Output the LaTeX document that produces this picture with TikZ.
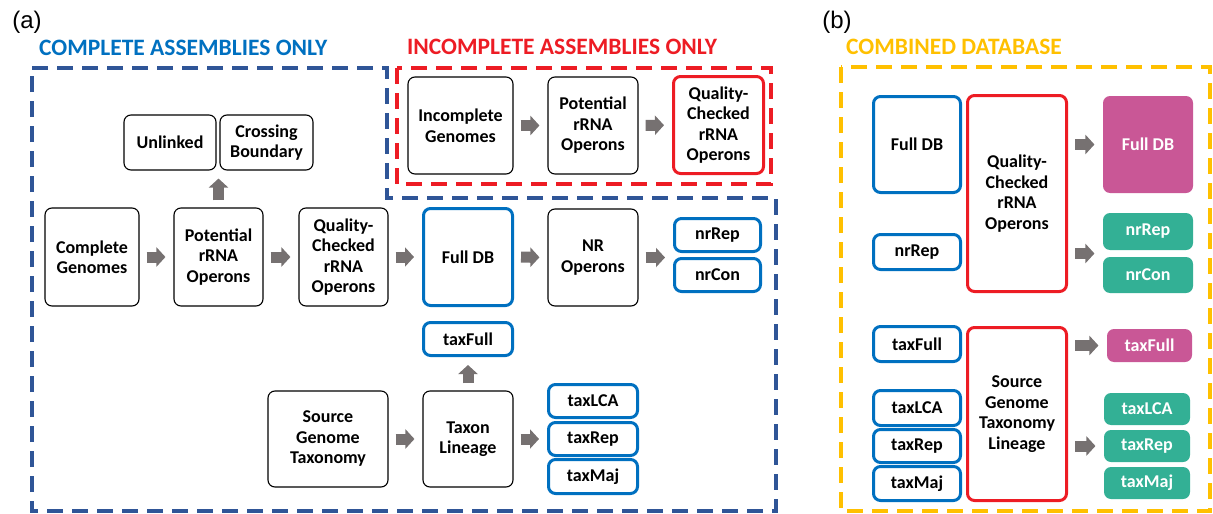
\documentclass[tikz,border=0pt]{standalone}
\usepackage{fontspec}
\setmainfont{Carlito}
\newfontfamily\panelfont{Liberation Sans}
\usepackage{tikz}
\usetikzlibrary{arrows.meta,calc}
\definecolor{boxblue}{RGB}{0,112,192}
\definecolor{frameblue}{RGB}{47,85,151}
\definecolor{boxred}{RGB}{237,28,36}
\definecolor{framegold}{RGB}{255,192,0}
\definecolor{dbpink}{RGB}{201,87,150}
\definecolor{dbgreen}{RGB}{51,176,149}
\definecolor{flowgray}{RGB}{118,113,113}

\tikzset{
  stage/.style={draw, rounded corners=7pt, line width=1.1pt, align=center, inner sep=0pt,
    font=\bfseries\fontsize{18}{20.5}\selectfont},
  dbblue/.style={stage, draw=boxblue, line width=3pt},
  dbred/.style={stage, draw=boxred, line width=3pt},
  outpink/.style={stage, draw=none, fill=dbpink, text=white},
  outgreen/.style={stage, draw=none, fill=dbgreen, text=white},
  flow/.style={draw=flowgray, line width=11pt, -{Triangle[length=9pt,width=19pt]},
    shorten <=7pt, shorten >=8pt},
  frame/.style={line width=3.5pt, dash pattern=on 16pt off 9pt},
  heading/.style={font=\bfseries\fontsize{23.5}{26}\selectfont, anchor=west, inner sep=0pt}
}

\begin{document}
\begin{tikzpicture}[x=1pt,y=-1pt]
\useasboundingbox (0,0) rectangle (1213,514);

% frames
\draw[frame, frameblue] (32,68) -- (387,68) -- (387,198) -- (776,198) -- (776,511) -- (32,511) -- cycle;
\draw[frame, boxred] (397,68) rectangle (771,184);
\draw[frame, framegold] (841,67) rectangle (1210,511);

% headings
\node[font=\panelfont\fontsize{24}{26}\selectfont] (lbla) at (27,22) {(a)};
\node[font=\panelfont\fontsize{24}{26}\selectfont] (lblb) at (837,22) {(b)};
\node[heading, text=boxblue] (hcomplete) at (39,48) {COMPLETE ASSEMBLIES ONLY};
\node[heading, text=boxred] (hincomplete) at (407,47) {INCOMPLETE ASSEMBLIES ONLY};
\node[heading, text=framegold] (hcombined) at (846,47) {COMBINED DATABASE};

% (a) complete assemblies
\node[stage, minimum width=92, minimum height=55] (unl) at (170,142.5) {Unlinked};
\node[stage, minimum width=93, minimum height=55] (crb) at (266.5,142.5) {Crossing\\Boundary};
\node[stage, minimum width=94, minimum height=98] (cgen) at (92,257) {Complete\\Genomes};
\node[stage, minimum width=89, minimum height=98] (pot) at (218.5,257) {Potential\\rRNA\\Operons};
\node[stage, minimum width=89, minimum height=98] (qc) at (343.5,257) {Quality-\\Checked\\rRNA\\Operons};
\node[dbblue, minimum width=89, minimum height=97] (fdb) at (468,257) {Full DB};
\node[stage, minimum width=90, minimum height=97] (nro) at (593,257.5) {NR\\Operons};
\node[dbblue, minimum width=86, minimum height=33] (nrrep) at (717.5,235) {nrRep};
\node[dbblue, minimum width=86, minimum height=33] (nrcon) at (717.5,275) {nrCon};
\node[dbblue, minimum width=89, minimum height=33] (taxfull) at (468,339) {taxFull};
\node[stage, minimum width=120, minimum height=96] (sgt) at (328,439) {Source\\Genome\\Taxonomy};
\node[stage, minimum width=90, minimum height=96] (tlin) at (468,439) {Taxon\\Lineage};
\node[dbblue, minimum width=89, minimum height=33] (taxlca) at (593,401) {taxLCA};
\node[dbblue, minimum width=89, minimum height=33] (taxrep) at (593,439) {taxRep};
\node[dbblue, minimum width=89, minimum height=34] (taxmaj) at (593,476.5) {taxMaj};

\draw[flow] (pot.north) -- (pot.north |- unl.south);
\draw[flow] (cgen) -- (pot);
\draw[flow] (pot) -- (qc);
\draw[flow] (qc) -- (fdb);
\draw[flow] (fdb) -- (nro);
\draw[flow] (nro.east) -- (nro.east -| nrrep.west);
\draw[flow] (tlin) -- (taxfull);
\draw[flow] (sgt) -- (tlin);
\draw[flow] (tlin) -- (taxrep);

% (a) incomplete assemblies
\node[stage, minimum width=105, minimum height=97] (igen) at (460.5,125.5) {Incomplete\\Genomes};
\node[stage, minimum width=90, minimum height=97] (ipot) at (593,125.5) {Potential\\rRNA\\Operons};
\node[dbred, minimum width=90, minimum height=97] (iqc) at (718.5,125) {Quality-\\Checked\\rRNA\\Operons};

\draw[flow] (igen) -- (ipot);
\draw[flow] (ipot) -- (iqc);

% (b) combined database
\node[dbblue, minimum width=87, minimum height=96] (bfdb) at (917,144.5) {Full DB};
\node[dbblue, minimum width=87, minimum height=35] (bnrrep) at (917,252) {nrRep};
\node[dbred, minimum width=99, minimum height=196] (bqc) at (1017,193.5) {Quality-\\Checked\\rRNA\\Operons};
\node[outpink, minimum width=90, minimum height=97] (pfdb) at (1148,144.5) {Full DB};
\node[outgreen, minimum width=90, minimum height=37] (gnrrep) at (1148,231.5) {nrRep};
\node[outgreen, minimum width=90, minimum height=36] (gnrcon) at (1148,275) {nrCon};
\coordinate (gnrmid) at ($(gnrrep.south west)!0.5!(gnrcon.north west)$);

\node[dbblue, minimum width=87, minimum height=35] (btaxfull) at (917,344) {taxFull};
\node[dbblue, minimum width=87, minimum height=35] (btaxlca) at (917,408) {taxLCA};
\node[dbblue, minimum width=87, minimum height=33] (btaxrep) at (917,446) {taxRep};
\node[dbblue, minimum width=87, minimum height=34] (btaxmaj) at (917,483.5) {taxMaj};
\node[dbred, minimum width=99, minimum height=173] (bsgl) at (1017,414) {Source\\Genome\\Taxonomy\\Lineage};
\node[outpink, minimum width=85, minimum height=33] (ptaxfull) at (1149.5,345.5) {taxFull};
\node[outgreen, minimum width=86, minimum height=32] (gtaxlca) at (1147,409) {taxLCA};
\node[outgreen, minimum width=86, minimum height=32] (gtaxrep) at (1147,446) {taxRep};
\node[outgreen, minimum width=86, minimum height=32] (gtaxmaj) at (1147,483) {taxMaj};

\draw[flow] (bqc.east |- pfdb.west) -- (pfdb.west);
\draw[flow] (bqc.east |- gnrmid) -- (gnrmid);
\draw[flow] (bsgl.east |- ptaxfull.west) -- (ptaxfull.west);
\draw[flow] (bsgl.east |- gtaxrep.west) -- (gtaxrep.west);
\end{tikzpicture}
\end{document}
